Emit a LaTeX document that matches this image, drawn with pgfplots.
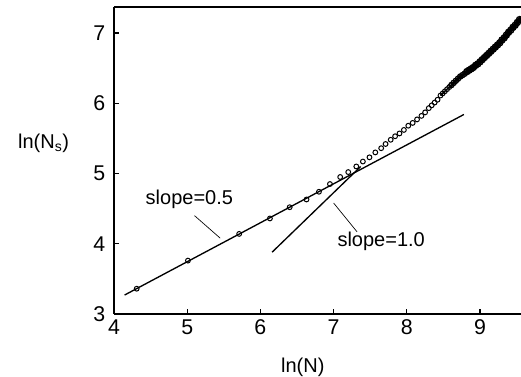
\documentclass[border=0pt]{standalone}
\usepackage{pgfplots}
\pgfplotsset{compat=1.18}
\usepackage{fontspec}
\setmainfont{Liberation Sans}
\begin{document}
\begin{tikzpicture}
\begin{axis}[
  at={(0,0)}, anchor=south west,
  scale only axis, width=305.25pt, height=230.25pt,
  xmin=4, xmax=9.56, ymin=3, ymax=7.37,
  axis x line=box, axis y line=left,
  y axis line style={-}, x axis line style={-},
  xtick pos=left, ytick pos=left,
  xtick={4,5,6,7,8,9}, ytick={3,4,5,6,7},
  tick align=inside, major tick length=4pt,
  every tick/.style={black, line width=0.8pt},
  axis line style={line width=1.3pt},
  tick label style={font=\fontsize{16}{18}\selectfont},
  yticklabel style={xshift=-3pt},
  xticklabel style={yshift=-1pt},
  /pgf/number format/assume math mode=true,
  clip mode=individual,
]
% fitted lines
\addplot[black, line width=1pt, no marks] coordinates {(4.145,3.27) (8.78,5.84)};
\addplot[black, line width=1pt, no marks] coordinates {(6.16,3.88) (7.37,5.10)};
% leader lines
\addplot[black, line width=0.5pt, no marks] coordinates {(5.10,4.40) (5.45,4.08)};
\addplot[black, line width=0.5pt, no marks] coordinates {(7.00,4.58) (7.32,4.17)};
% data (sparse)
\addplot[only marks, mark=o, mark size=1.8pt, mark options={fill=white, line width=0.75pt}] coordinates {
(4.31,3.36) (5.01,3.76) (5.71,4.14) (6.13,4.36) (6.40,4.52) (6.63,4.63) (6.80,4.74)
(6.95,4.85) (7.09,4.95) (7.20,5.02) (7.31,5.10) (7.40,5.17) (7.49,5.23) (7.57,5.30)
(7.65,5.36) (7.71,5.42) (7.78,5.48) (7.84,5.53) (7.90,5.57) (7.96,5.62) (8.02,5.68)
(8.08,5.72) (8.14,5.77) (8.20,5.82) (8.25,5.87) (8.30,5.93) (8.34,5.97) (8.38,6.01)
(8.42,6.05)
};
% data (dense, start)
\addplot[black, line width=1pt, mark=o, mark size=1.8pt, mark options={line width=0.75pt}] coordinates {
(8.46,6.11) (8.49,6.14) (8.52,6.17) (8.55,6.20) (8.58,6.23) (8.61,6.26)
};
% data (dense, middle)
\addplot[black, line width=2pt, mark=o, mark size=2pt, mark options={line width=0.9pt}] coordinates {
(8.61,6.26) (8.64,6.29) (8.67,6.32) (8.70,6.35) (8.73,6.38) (8.76,6.40) (8.79,6.42) (8.82,6.45)
};
% data (dense, end)
\addplot[black, line width=3.2pt, mark=o, mark size=2.3pt, mark options={line width=1pt}] coordinates {
(8.82,6.45) (8.85,6.47)
(8.88,6.49) (8.91,6.51) (8.94,6.54) (8.97,6.56) (9.00,6.59) (9.03,6.62) (9.06,6.65)
(9.09,6.68) (9.12,6.71) (9.15,6.74) (9.18,6.77) (9.21,6.80) (9.24,6.83) (9.27,6.86)
(9.30,6.90) (9.33,6.93) (9.36,6.97) (9.39,7.01) (9.42,7.04) (9.45,7.08) (9.48,7.11)
(9.51,7.15) (9.54,7.19) (9.57,7.22)
};
\node[font=\fontsize{15}{17}\selectfont] at (axis cs:5.03,4.63) {slope=0.5};
\node[font=\fontsize{15}{17}\selectfont] at (axis cs:7.65,4.03) {slope=1.0};
\node[font=\fontsize{15}{17}\selectfont] at (axis description cs:0.464,-0.173) {ln(N)};
\node[font=\fontsize{15}{17}\selectfont] at (axis description cs:-0.173,0.557) {ln(N\textsubscript{s})};
\end{axis}
\pgfresetboundingbox
\path (-85.5pt,-47.25pt) rectangle (305.25pt,235.5pt);
\end{tikzpicture}
\end{document}
